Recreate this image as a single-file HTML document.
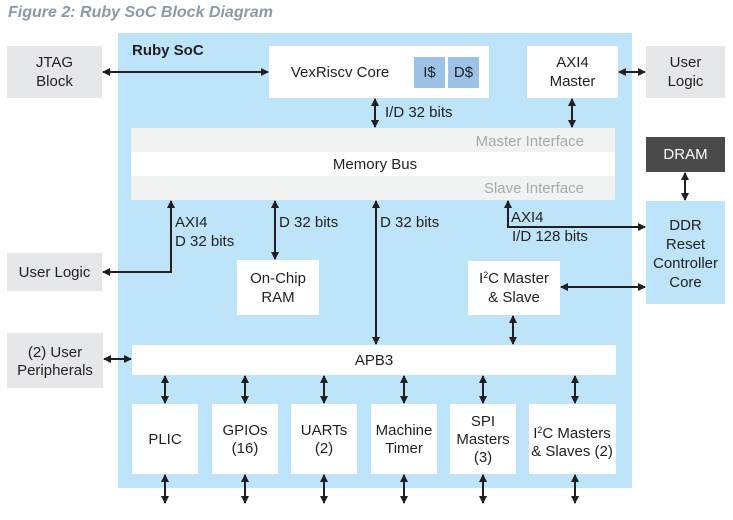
<!DOCTYPE html>
<html><head><meta charset="utf-8"><style>
body{margin:0;width:733px;height:515px;background:#fff;overflow:hidden;font-family:"Liberation Sans",sans-serif;}
</style></head><body>
<svg width="733" height="515" xmlns="http://www.w3.org/2000/svg" font-family="Liberation Sans, sans-serif" font-size="15" fill="#231f20">
<defs>
<marker id="a" markerWidth="8" markerHeight="8" refX="7" refY="4" orient="auto-start-reverse" markerUnits="userSpaceOnUse"><path d="M0,0 L8,4 L0,8 Z" fill="#231f20"/></marker>
</defs>
<text x="8" y="17" font-size="16" font-style="italic" font-weight="bold" fill="#8a9aa6">Figure 2: Ruby SoC Block Diagram</text>
<rect x="118" y="33" width="514" height="455" fill="#bde4f8"/>
<text x="132" y="55" font-weight="bold" font-size="15">Ruby SoC</text>
<rect x="7" y="46" width="95" height="52" fill="#e6e7e8"/>
<text x="54.5" y="67" text-anchor="middle">JTAG</text><text x="54.5" y="86" text-anchor="middle">Block</text>
<rect x="7" y="253" width="95" height="38" fill="#e6e7e8"/>
<text x="54.5" y="277" text-anchor="middle">User Logic</text>
<rect x="7" y="333" width="96" height="55" fill="#e6e7e8"/>
<text x="55" y="357" text-anchor="middle">(2) User</text><text x="55" y="375" text-anchor="middle">Peripherals</text>
<rect x="646" y="46" width="79" height="52" fill="#e6e7e8"/>
<text x="685.5" y="67" text-anchor="middle">User</text><text x="685.5" y="86" text-anchor="middle">Logic</text>
<rect x="646" y="137" width="79" height="35" fill="#4a4a4a"/>
<text x="685.5" y="159" text-anchor="middle" fill="#fff">DRAM</text>
<rect x="646" y="201" width="79" height="103" fill="#bde4f8"/>
<text x="685.5" y="230" text-anchor="middle">DDR</text><text x="685.5" y="249" text-anchor="middle">Reset</text><text x="685.5" y="268" text-anchor="middle">Controller</text><text x="685.5" y="287" text-anchor="middle">Core</text>
<rect x="269" y="46" width="220" height="52" fill="#fff"/>
<text x="340" y="77" text-anchor="middle">VexRiscv Core</text>
<rect x="414" y="57" width="31" height="31" fill="#9cc3e6"/><text x="429.5" y="77" text-anchor="middle">I$</text>
<rect x="448" y="57" width="31" height="31" fill="#9cc3e6"/><text x="463.5" y="77" text-anchor="middle">D$</text>
<rect x="527" y="46" width="91" height="52" fill="#fff"/>
<text x="572.5" y="67" text-anchor="middle">AXI4</text><text x="572.5" y="86" text-anchor="middle">Master</text>
<rect x="131" y="128" width="484" height="24" fill="#f1f2f2"/>
<rect x="131" y="152" width="484" height="24" fill="#fff"/>
<rect x="131" y="176" width="484" height="24" fill="#f1f2f2"/>
<text x="584" y="146" text-anchor="end" fill="#a7a9ac">Master Interface</text>
<text x="375" y="169" text-anchor="middle">Memory Bus</text>
<text x="584" y="193" text-anchor="end" fill="#a7a9ac">Slave Interface</text>
<rect x="237" y="260" width="82" height="55" fill="#fff"/>
<text x="278" y="283" text-anchor="middle">On-Chip</text><text x="278" y="302" text-anchor="middle">RAM</text>
<rect x="468" y="261" width="92" height="54" fill="#fff"/>
<text x="514" y="283" text-anchor="middle">I<tspan font-size="9" dy="-5">2</tspan><tspan dy="5">C Master</tspan></text><text x="514" y="302" text-anchor="middle">&amp; Slave</text>
<rect x="132" y="345" width="484" height="30" fill="#fff"/>
<text x="374" y="365" text-anchor="middle">APB3</text>
<g>
<rect x="132" y="404" width="66" height="70" fill="#fff"/><text x="165" y="444" text-anchor="middle">PLIC</text>
<rect x="212" y="404" width="66" height="70" fill="#fff"/><text x="245" y="435" text-anchor="middle">GPIOs</text><text x="245" y="453" text-anchor="middle">(16)</text>
<rect x="291" y="404" width="66" height="70" fill="#fff"/><text x="324" y="435" text-anchor="middle">UARTs</text><text x="324" y="453" text-anchor="middle">(2)</text>
<rect x="371" y="404" width="66" height="70" fill="#fff"/><text x="404" y="435" text-anchor="middle">Machine</text><text x="404" y="453" text-anchor="middle">Timer</text>
<rect x="450" y="404" width="66" height="70" fill="#fff"/><text x="483" y="426" text-anchor="middle">SPI</text><text x="483" y="444" text-anchor="middle">Masters</text><text x="483" y="462" text-anchor="middle">(3)</text>
<rect x="529" y="404" width="87" height="70" fill="#fff"/><text x="572" y="438" text-anchor="middle">I<tspan font-size="9" dy="-5">2</tspan><tspan dy="5">C Masters</tspan></text><text x="572" y="456" text-anchor="middle">&amp; Slaves (2)</text>
</g>
<g stroke="#231f20" stroke-width="2" fill="none">
<line x1="103" y1="72" x2="268" y2="72" marker-start="url(#a)" marker-end="url(#a)"/>
<line x1="619" y1="72" x2="645" y2="72" marker-start="url(#a)" marker-end="url(#a)"/>
<line x1="375" y1="99" x2="375" y2="127" marker-start="url(#a)" marker-end="url(#a)"/>
<line x1="572" y1="99" x2="572" y2="127" marker-start="url(#a)" marker-end="url(#a)"/>
<line x1="685" y1="173" x2="685" y2="200" marker-start="url(#a)" marker-end="url(#a)"/>
<polyline points="103,272 171,272 171,201" marker-start="url(#a)" marker-end="url(#a)"/>
<line x1="275" y1="201" x2="275" y2="259" marker-start="url(#a)" marker-end="url(#a)"/>
<line x1="376" y1="201" x2="376" y2="344" marker-start="url(#a)" marker-end="url(#a)"/>
<polyline points="508,201 508,227 645,227" marker-start="url(#a)" marker-end="url(#a)"/>
<line x1="561" y1="287" x2="645" y2="287" marker-start="url(#a)" marker-end="url(#a)"/>
<line x1="513" y1="316" x2="513" y2="344" marker-start="url(#a)" marker-end="url(#a)"/>
<line x1="104" y1="359" x2="131" y2="359" marker-start="url(#a)" marker-end="url(#a)"/>
<line x1="165" y1="376" x2="165" y2="403" marker-start="url(#a)" marker-end="url(#a)"/>
<line x1="245" y1="376" x2="245" y2="403" marker-start="url(#a)" marker-end="url(#a)"/>
<line x1="324" y1="376" x2="324" y2="403" marker-start="url(#a)" marker-end="url(#a)"/>
<line x1="404" y1="376" x2="404" y2="403" marker-start="url(#a)" marker-end="url(#a)"/>
<line x1="483" y1="376" x2="483" y2="403" marker-start="url(#a)" marker-end="url(#a)"/>
<line x1="575" y1="376" x2="575" y2="403" marker-start="url(#a)" marker-end="url(#a)"/>
<line x1="165" y1="475" x2="165" y2="503" marker-start="url(#a)" marker-end="url(#a)"/>
<line x1="245" y1="475" x2="245" y2="503" marker-start="url(#a)" marker-end="url(#a)"/>
<line x1="324" y1="475" x2="324" y2="503" marker-start="url(#a)" marker-end="url(#a)"/>
<line x1="404" y1="475" x2="404" y2="503" marker-start="url(#a)" marker-end="url(#a)"/>
<line x1="483" y1="475" x2="483" y2="503" marker-start="url(#a)" marker-end="url(#a)"/>
<line x1="575" y1="475" x2="575" y2="503" marker-start="url(#a)" marker-end="url(#a)"/>
</g>
<text x="385" y="117">I/D 32 bits</text>
<text x="175" y="227">AXI4</text><text x="175" y="246">D 32 bits</text>
<text x="279" y="227">D 32 bits</text>
<text x="380" y="227">D 32 bits</text>
<text x="511" y="222">AXI4</text><text x="512" y="241">I/D 128 bits</text>
</svg>
</body></html>
